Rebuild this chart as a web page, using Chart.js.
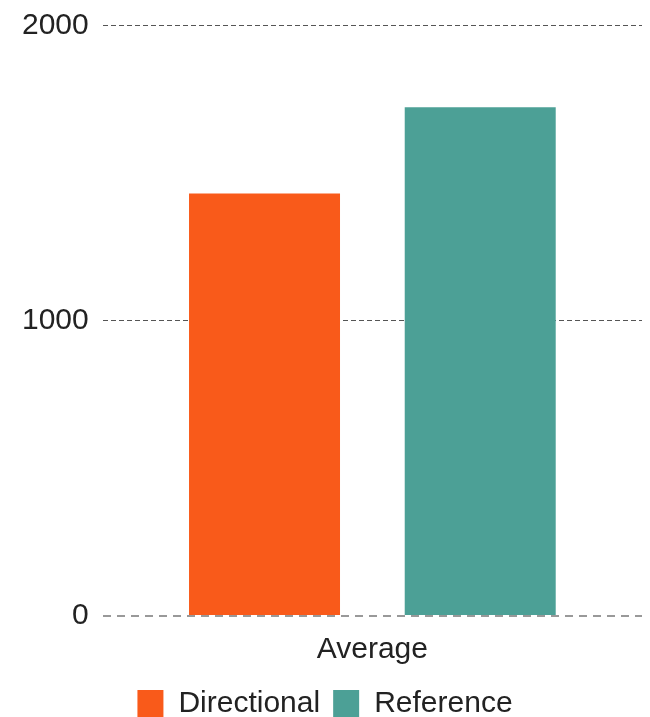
<!DOCTYPE html>
<html>
<head>
<meta charset="utf-8">
<script src="https://cdn.jsdelivr.net/npm/chart.js@4.4.1/dist/chart.umd.min.js"></script>
<style>
  html, body { margin: 0; padding: 0; background: #fff; }
  #wrap { width: 650px; height: 717px; }
</style>
</head>
<body>
<div id="wrap"><canvas id="avgChart" width="650" height="717"></canvas></div>
<script>
// data
const categories = ['Average'];
const directional = [1430];
const reference = [1722];
const yTicks = [0, 1000, 2000];

const FONT = "'Liberation Sans', Arial, sans-serif";

new Chart(document.getElementById('avgChart'), {
    type: 'bar',
    data: {
        labels: categories,
        datasets: [{
            label: 'Directional',
            data: directional,
            backgroundColor: '#f95a1a'
        },{
            label: 'Reference',
            data: reference,
            backgroundColor: '#4ca096'
        }]
    },
    options: {
        responsive: false,
        animation: false,
        categoryPercentage: 0.8,
        barPercentage: 0.7,
        layout: { padding: { top: 0, right: 8, left: 8, bottom: -12 } },
        scales: {
            x: {
                grid: { display: false },
                border: { display: false },
                ticks: { color: '#222', font: { family: FONT, size: 30 }, padding: 8 }
            },
            y: {
                min: yTicks[0],
                max: yTicks[yTicks.length - 1],
                afterBuildTicks: (axis) => { axis.ticks = yTicks.map(v => ({ value: v })); },
                ticks: {
                    color: '#222',
                    font: { family: FONT, size: 30, lineHeight: 0.75 },
                    padding: 14,
                    callback: (v) => String(v)
                },
                grid: {
                    drawTicks: false,
                    color: (c) => c.tick && c.tick.value === 0 ? '#999' : '#555',
                    lineWidth: (c) => c.tick && c.tick.value === 0 ? 2 : 1
                },
                border: {
                    display: false,
                    dash: (c) => c.tick && c.tick.value === 0 ? [8, 6] : [5, 3]
                }
            }
        },
        plugins: {
            tooltip: { enabled: false },
            legend: {
                position: 'bottom',
                labels: {
                    color: '#222',
                    font: { family: FONT, size: 30 },
                    boxWidth: 26,
                    boxHeight: 28,
                    padding: 13
                }
            }
        }
    }
});
</script>
</body>
</html>
